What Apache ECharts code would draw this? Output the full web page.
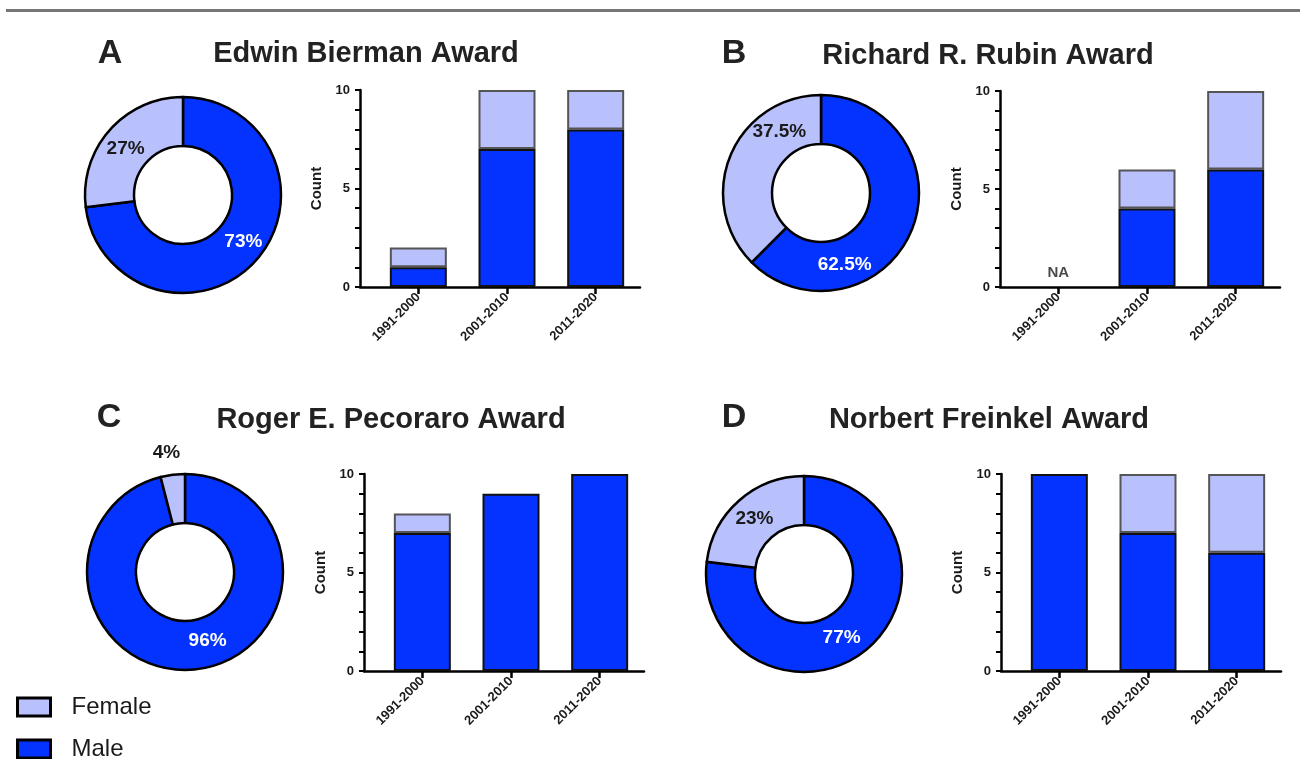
<!DOCTYPE html>
<html>
<head>
<meta charset="utf-8">
<title>Award recipients by gender</title>
<script src="https://cdn.jsdelivr.net/npm/echarts@6/dist/echarts.min.js"></script>
<style>
  html, body { margin: 0; padding: 0; background: #fff; }
  #chart { width: 1300px; height: 759px; }
</style>
</head>
<body>
<div id="chart"></div>
<script>
// ---- data ----
const periods = ['1991-2000', '2001-2010', '2011-2020'];
const panelLetters = ['A', 'B', 'C', 'D'];
const awardNames = ['Edwin Bierman Award', 'Richard R. Rubin Award', 'Roger E. Pecoraro Award', 'Norbert Freinkel Award'];

// recipients per decade (null = award not given yet)
const maleBierman = [1, 7, 8];
const femaleBierman = [1, 3, 2];
const maleRubin = [null, 4, 6];
const femaleRubin = [null, 2, 4];
const malePecoraro = [7, 9, 10];
const femalePecoraro = [1, 0, 0];
const maleFreinkel = [10, 7, 6];
const femaleFreinkel = [0, 3, 4];

// overall share in percent
const malePct = [73, 62.5, 96, 77];
const femalePct = [27, 37.5, 4, 23];

const countTicks = [0, 5, 10];

const maleCounts = [maleBierman, maleRubin, malePecoraro, maleFreinkel];
const femaleCounts = [femaleBierman, femaleRubin, femalePecoraro, femaleFreinkel];

// ---- layout / style ----
const FONT = "'Liberation Sans', Arial, Helvetica, sans-serif";
const MALE = '#0433FF';
const FEMALE = '#B9C1FD';
const INK = '#1a1a1a';
const GAP = 14; // space between the count axis and the first bar slot

const layout = [
  { letter: [110, 54], title: [366, 54], pie: [183, 195], axisX: 360, right: 640, top: 90, bottom: 287,
    maleOff: [3, -4], femaleOff: [0, 4] },
  { letter: [734, 54], title: [988, 56], pie: [821, 193], axisX: 1000, right: 1280, top: 91, bottom: 287,
    maleOff: [-47, 42], femaleOff: [29, -32] },
  { letter: [109, 418], title: [391, 420], pie: [185, 572], axisX: 364, right: 644, top: 474, bottom: 671,
    maleOff: [13, -7], femaleOff: [-9, -43] },
  { letter: [734, 418], title: [989, 420], pie: [804, 574], axisX: 1001, right: 1281, top: 474, bottom: 671,
    maleOff: [-13, 6], femaleOff: [1, 2] }
];

const grids = [], xAxes = [], yAxes = [], series = [], graphics = [];
const labelFont = { fontFamily: FONT, fontWeight: 'bold', fontSize: 13, color: INK };

graphics.push({ type: 'rect', shape: { x: 6, y: 9, width: 1294, height: 3 }, style: { fill: '#777' } });

layout.forEach((L, p) => {
  graphics.push({
    type: 'text', x: L.letter[0], y: L.letter[1],
    style: { text: panelLetters[p], font: 'bold 34px ' + FONT, fill: '#222', textAlign: 'center', textVerticalAlign: 'middle' }
  });
  graphics.push({
    type: 'text', x: L.title[0], y: L.title[1],
    style: { text: awardNames[p], font: 'bold 29px ' + FONT, fill: '#222', textAlign: 'center', textVerticalAlign: 'middle' }
  });

  // donut of overall share
  series.push({
    type: 'pie', center: L.pie, radius: [49, 98], startAngle: 90, clockwise: true,
    silent: true, legendHoverLink: false,
    itemStyle: { borderColor: '#000', borderWidth: 2.5 },
    label: { show: true, position: 'inside', formatter: '{c}%', fontFamily: FONT, fontWeight: 'bold', fontSize: 19 },
    labelLine: { show: false },
    emphasis: { disabled: true },
    data: [
      { name: 'Male', value: malePct[p], itemStyle: { color: MALE }, label: { color: '#fff', offset: L.maleOff } },
      { name: 'Female', value: femalePct[p], itemStyle: { color: FEMALE }, label: { color: INK, offset: L.femaleOff } }
    ]
  });

  const h = L.bottom - L.top;
  // frame grid: carries the count axis and the full-length baseline
  const gFrame = grids.length;
  grids.push({ left: L.axisX, top: L.top, width: L.right - L.axisX, height: h });
  xAxes.push({
    gridIndex: gFrame, type: 'value', min: 0, max: 1,
    axisLine: { show: true, onZero: false, lineStyle: { color: '#000', width: 2.5 } },
    axisTick: { show: false }, axisLabel: { show: false }, splitLine: { show: false }
  });
  yAxes.push({
    gridIndex: gFrame, type: 'value', min: 0, max: 10, interval: 1,
    name: 'Count', nameLocation: 'middle', nameGap: 36,
    nameTextStyle: { fontFamily: FONT, fontWeight: 'bold', fontSize: 15, color: INK },
    axisLine: { show: true, onZero: false, lineStyle: { color: '#000', width: 2.5 } },
    axisTick: { show: true, length: 5, lineStyle: { color: '#000', width: 2 } },
    axisLabel: Object.assign({ margin: 10, formatter: v => (countTicks.indexOf(v) >= 0 ? String(v) : '') }, labelFont),
    splitLine: { show: false }
  });

  // bar grid: decades as categories, same count scale
  const gBar = grids.length;
  grids.push({ left: L.axisX + GAP, top: L.top, width: L.right - L.axisX - GAP, height: h });
  xAxes.push({
    gridIndex: gBar, type: 'category', data: periods, boundaryGap: true,
    axisLine: { show: false },
    axisTick: { show: true, alignWithLabel: true, length: 7, lineStyle: { color: '#000', width: 2.5 } },
    axisLabel: Object.assign({ rotate: 45, margin: 8, interval: 0 }, labelFont),
    splitLine: { show: false }
  });
  yAxes.push({ gridIndex: gBar, type: 'value', min: 0, max: 10, show: false });

  const toData = arr => arr.map(v => (v ? v : '-'));
  series.push({
    name: 'Male', type: 'bar', xAxisIndex: gBar, yAxisIndex: gBar, stack: 'g' + p, barWidth: 57, z: 3,
    itemStyle: { color: MALE, borderColor: '#111', borderWidth: 2 },
    emphasis: { disabled: true },
    data: toData(maleCounts[p])
  });
  series.push({
    name: 'Female', type: 'bar', xAxisIndex: gBar, yAxisIndex: gBar, stack: 'g' + p, barWidth: 57, z: 2,
    itemStyle: { color: FEMALE, borderColor: '#555', borderWidth: 2 },
    emphasis: { disabled: true },
    data: toData(femaleCounts[p])
  });

  // decades without any recipient are marked "NA"
  const missing = periods.filter((d, i) => maleCounts[p][i] == null && femaleCounts[p][i] == null);
  if (missing.length) {
    series.push({
      type: 'scatter', xAxisIndex: gBar, yAxisIndex: gBar, symbolSize: 0, silent: true,
      data: missing.map(d => [d, 0]),
      label: { show: true, position: 'top', distance: 7, formatter: 'NA',
               fontFamily: FONT, fontWeight: 'bold', fontSize: 15, color: INK }
    });
  }
});

const chart = echarts.init(document.getElementById('chart'), null, { renderer: 'canvas' });
chart.setOption({
  animation: false,
  backgroundColor: '#fff',
  textStyle: { fontFamily: FONT },
  grid: grids,
  xAxis: xAxes,
  yAxis: yAxes,
  legend: {
    orient: 'vertical', left: 16, top: 695, width: 200, height: 80, padding: 0,
    itemWidth: 33, itemHeight: 18, itemGap: 18,
    selectedMode: false,
    textStyle: { fontFamily: FONT, fontSize: 24, lineHeight: 18, color: INK, padding: [0, 0, 0, 16] },
    data: [
      { name: 'Female', icon: 'rect', itemStyle: { color: FEMALE, borderColor: '#000', borderWidth: 3 } },
      { name: 'Male', icon: 'rect', itemStyle: { color: MALE, borderColor: '#000', borderWidth: 3 } }
    ]
  },
  graphic: graphics,
  series: series
});
</script>
</body>
</html>
